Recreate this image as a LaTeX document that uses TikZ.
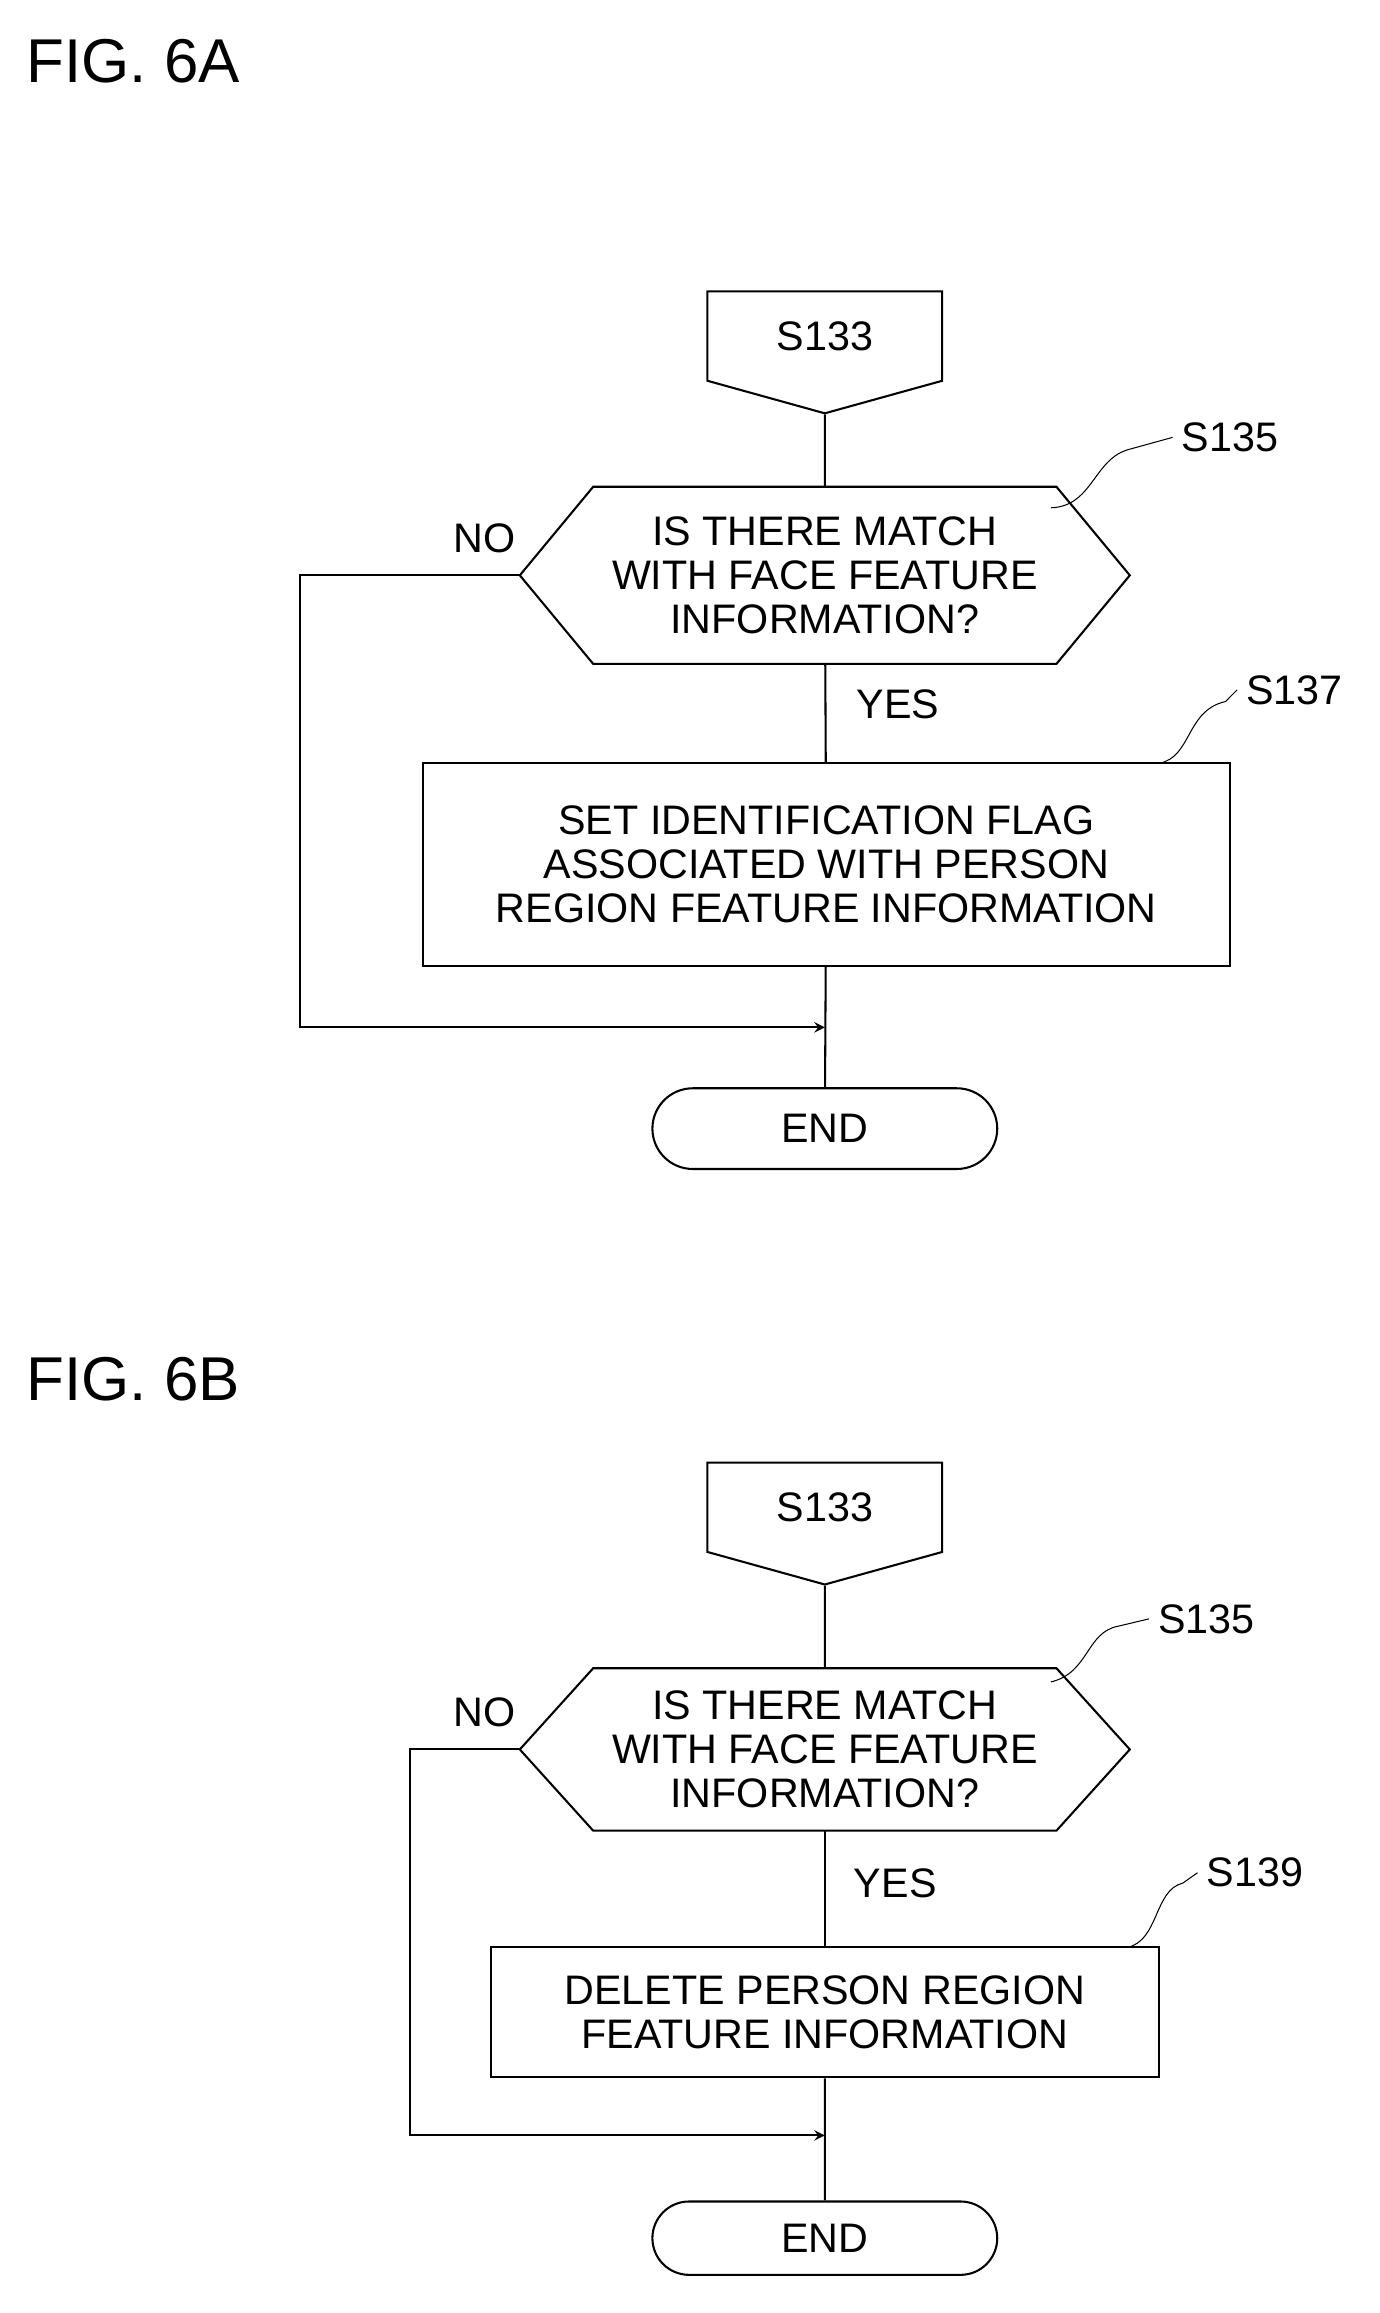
\documentclass[tikz,border=0pt]{standalone}
\usepackage{fontspec}
\setmainfont{Liberation Sans}
\usetikzlibrary{shapes,shapes.misc,shapes.symbols,arrows,positioning}
\tikzstyle{block} = [rectangle, draw, thick, inner sep=0pt, align=center]
\tikzstyle{decision} = [rectangle, inner sep=0pt, minimum width=8.3cm, minimum height=2.4cm, align=center]
\tikzstyle{offpage} = [signal, signal to=south, signal pointer angle=149, draw, thick, inner sep=0pt, minimum width=3.2cm, minimum height=1.4cm]
\tikzstyle{term} = [rounded rectangle, draw, thick, inner sep=0pt, minimum width=4.7cm, minimum height=1.1cm]
\tikzstyle{line} = [draw, thick]
\tikzstyle{lead} = [draw, thin]
\newcommand{\hexa}[1]{\draw [line] (#1.west) -- ([xshift=1cm]#1.north west) -- ([xshift=-1cm]#1.north east) -- (#1.east) -- ([xshift=-1cm]#1.south east) -- ([xshift=1cm]#1.south west) -- cycle;}
\begin{document}
\begin{tikzpicture}[x=0.02cm, y=-0.02cm, font=\fontsize{16}{17}\selectfont, >=stealth]
   \useasboundingbox (0,0) rectangle (940,1576);
   % Fig. 6A
   \node [anchor=west, font=\fontsize{24}{26}\selectfont] (figa) at (12,42) {FIG. 6A};
   \node [offpage] (a133) at (562,229) {S133};
   \node [decision] (a135) at (562,392) {IS THERE MATCH\\WITH FACE FEATURE\\INFORMATION?};
   \hexa{a135}
   \node [block, minimum width=11cm, minimum height=2.76cm] (a137) at (563,589) {SET IDENTIFICATION FLAG\\ASSOCIATED WITH PERSON\\REGION FEATURE INFORMATION};
   \node [term] (aend) at (562,769) {END};
   \node (la135) at (838,298) {S135};
   \node (la137) at (882,470) {S137};
   \node (ano) at (330,367) {NO};
   \node (ayes) at (612,480) {YES};
   \coordinate (aj) at (562,700);

   \draw [line] (a133) -- (a135);
   \draw [line] (a135) -- (a137);
   \draw [line] (a137) -- (aend);
   \draw [line, ->] (a135.west) -- ++(-150,0) |- (aj);
   \draw [lead] (716,346) .. controls (745,345) and (745,312) .. (770,306) -- (la135.west);
   \draw [lead] (790,520) .. controls (812,516) and (808,484) .. (835,478) -- (la137.west);

   % Fig. 6B
   \node [anchor=west, font=\fontsize{24}{26}\selectfont] (figb) at (12,940) {FIG. 6B};
   \node [offpage] (b133) at (562,1027) {S133};
   \node [decision, minimum height=2.2cm] (b135) at (562,1192) {IS THERE MATCH\\WITH FACE FEATURE\\INFORMATION?};
   \hexa{b135}
   \node [block, minimum width=9.1cm, minimum height=1.78cm] (b139) at (562,1371) {DELETE PERSON REGION\\FEATURE INFORMATION};
   \node [term, minimum height=1.0cm] (bend) at (562,1525) {END};
   \node (lb135) at (822,1103) {S135};
   \node (lb139) at (855,1276) {S139};
   \node (bno) at (330,1167) {NO};
   \node (byes) at (610,1283) {YES};
   \coordinate (bj) at (562,1455);

   \draw [line] (b133) -- (b135);
   \draw [line] (b135) -- (b139);
   \draw [line] (b139) -- (bend);
   \draw [line, ->] (b135.west) -- ++(-75,0) |- (bj);
   \draw [lead] (716,1146) .. controls (742,1140) and (740,1112) .. (762,1108) -- (lb135.west);
   \draw [lead] (768,1327) .. controls (790,1322) and (786,1288) .. (806,1283) -- (lb139.west);
\end{tikzpicture}
\end{document}
